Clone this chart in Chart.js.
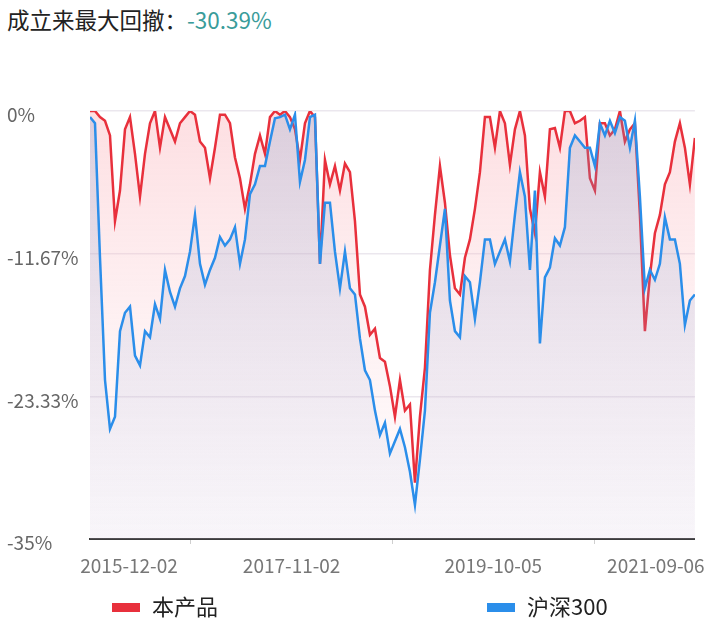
<!DOCTYPE html>
<html>
<head>
<meta charset="utf-8">
<script src="https://cdn.jsdelivr.net/npm/chart.js@4.4.1/dist/chart.umd.min.js"></script>
<style>
  html, body { margin: 0; padding: 0; background: #fff; }
  body { width: 716px; height: 622px; position: relative; overflow: hidden;
         font-family: "Noto Sans CJK SC", "Noto Sans", sans-serif; }
  .title { position: absolute; left: 7px; top: 3px; font-size: 22.5px; color: #222; white-space: nowrap; }
  .title .num { color: #3a9c9a; }
  .chart-box { position: absolute; left: 0; top: 0; width: 716px; height: 590px; }
  .legend-item { position: absolute; top: 589px; font-size: 22px; color: #222; white-space: nowrap; }
  .legend-item i { display: inline-block; width: 28px; height: 9px; margin-right: 12px; vertical-align: middle; position: relative; top: -2px; }
</style>
</head>
<body>
<div class="title">成立来最大回撤：<span class="num">-30.39%</span></div>
<div class="chart-box"><canvas id="ddChart" width="716" height="590"></canvas></div>
<div class="legend-item" style="left:112px"><i style="background:#e8303c"></i>本产品</div>
<div class="legend-item" style="left:487px"><i style="background:#2b8eea"></i>沪深300</div>

<script>
// 回撤数据 (%), 2015-12-02 ~ 2021-09-06, 等间隔采样
const productDD = [
  0, 0, -0.5, -0.8, -2.0, -9.0, -6.5, -1.5, -0.5, -3.5,
  -7.0, -3.5, -1.0, 0, -3.0, -0.5, -1.5, -2.5, -1.0, -0.5,
  0, -0.3, -2.5, -3.0, -5.5, -3.0, -0.3, -0.3, -1.0, -3.8,
  -5.5, -8.0, -6.0, -3.5, -2.0, -3.5, -0.5, 0, -0.3, 0,
  -0.5, -1.5, -4.0, -1.0, 0, -0.5, -12.5, -4.0, -6.0, -4.5,
  -6.5, -4.3, -5.0, -9.0, -15.0, -16.0, -18.3, -17.8, -20.2, -20.5,
  -22.5, -25.0, -22.0, -24.5, -24.0, -30.39, -25.0, -21.0, -13.0, -8.5,
  -4.5, -7.5, -11.8, -14.5, -15.0, -12.0, -10.5, -8.0, -5.0, -0.5,
  -0.5, -3.0, 0, -1.0, -4.4, -1.5, 0, -2.0, -8.0, -10.0,
  -5.0, -7.0, -1.5, -1.4, -3.0, 0, 0, -1.0, -0.8, -0.5,
  -5.5, -6.5, -1.0, -1.0, -2.0, -1.5, 0, -2.5, -1.5, -1.0,
  -8.5, -18.0, -13.5, -10.0, -8.5, -6.0, -5.0, -2.5, -1.0, -3.0,
  -6.0, -2.2
];
const hs300DD = [
  -0.5, -1.0, -12.0, -22.0, -26.0, -25.0, -18.0, -16.5, -16.0, -20.0,
  -20.8, -18.0, -18.5, -15.8, -17.0, -13.0, -14.8, -16.0, -14.5, -13.5,
  -11.5, -8.5, -12.5, -14.2, -13.0, -12.0, -10.3, -11.0, -10.5, -9.5,
  -12.5, -10.5, -6.8, -6.0, -4.5, -4.5, -2.5, -0.6, -0.5, -0.3,
  -1.5, -0.3, -5.8, -4.0, -0.5, -0.3, -12.5, -7.5, -7.5, -11.5,
  -14.5, -11.5, -14.5, -15.0, -18.6, -21.2, -22.0, -24.5, -26.5, -25.5,
  -28.0, -27.0, -26.0, -27.5, -29.5, -32.2, -28.5, -24.5, -16.5, -14.0,
  -11.0, -8.0, -15.5, -18.0, -18.5, -13.5, -14.0, -17.0, -14.0, -10.5,
  -10.5, -12.5, -11.5, -10.5, -12.3, -8.5, -5.0, -7.0, -13.0, -6.5,
  -19.0, -13.6, -12.8, -10.4, -11.0, -9.5, -3.0, -2.0, -2.5, -3.0,
  -3.0, -4.5, -1.0, -2.0, -0.8, -1.8, -0.5, -0.8, -3.0, -0.8,
  -7.0, -14.5, -13.0, -13.8, -12.5, -8.7, -10.5, -10.5, -12.5, -17.5,
  -15.5, -15.0
];
const xTickLabels = ['2015-12-02', '2017-11-02', '2019-10-05', '2021-09-06'];
const yTickValues = [0, -35 / 3, -70 / 3, -35];
const yTickLabels = ['0%', '-11.67%', '-23.33%', '-35%'];

const lastIdx = productDD.length - 1;

function fillGradient(top, bottom) {
  return (context) => {
    const { ctx, chartArea } = context.chart;
    if (!chartArea) return top;
    const g = ctx.createLinearGradient(0, chartArea.top, 0, chartArea.bottom);
    g.addColorStop(0, top);
    g.addColorStop(1, bottom);
    return g;
  };
}

const fontFamily = '"Noto Sans CJK SC", "Noto Sans", sans-serif';

// label centres sit a little inside the ends, tick marks halfway between labels
const xTickFractions = [0.0645, 1 / 6, 1 / 3, 0.5, 2 / 3, 5 / 6, 0.9355];

new Chart(document.getElementById('ddChart'), {
  type: 'line',
  data: {
    labels: productDD.map((_, i) => i),
    datasets: [
      {
        label: '本产品',
        data: productDD,
        borderColor: '#e8303c',
        borderWidth: 2.5,
        backgroundColor: fillGradient('rgba(250,170,178,0.38)', 'rgba(250,215,222,0.08)'),
        fill: 'start',
        pointRadius: 0,
        tension: 0,
        order: 1
      },
      {
        label: '沪深300',
        data: hs300DD,
        borderColor: '#2b8eea',
        borderWidth: 2.5,
        backgroundColor: fillGradient('rgba(110,150,200,0.24)', 'rgba(170,170,215,0.08)'),
        fill: 'start',
        pointRadius: 0,
        tension: 0,
        order: 0
      }
    ]
  },
  options: {
    responsive: false,
    maintainAspectRatio: false,
    animation: false,
    layout: { padding: { top: 111, left: 7, right: 21, bottom: 11 } },
    plugins: {
      legend: { display: false },
      tooltip: { enabled: false }
    },
    scales: {
      x: {
        type: 'linear',
        min: 0,
        max: lastIdx,
        afterBuildTicks: (scale) => {
          scale.ticks = xTickFractions.map((f) => ({ value: f * lastIdx }));
        },
        afterFit: (scale) => { scale.height = 40; },
        ticks: {
          autoSkip: false,
          maxRotation: 0,
          align: 'center',
          padding: 10,
          color: '#777',
          font: { family: fontFamily, size: 19 },
          callback: (value, index) => (index % 2 === 0 ? xTickLabels[index / 2] : '')
        },
        grid: {
          drawOnChartArea: false,
          drawTicks: true,
          tickLength: 5,
          tickColor: (ctx) => (ctx.index % 2 ? '#cfcfcf' : 'rgba(0,0,0,0)')
        },
        border: { display: true, color: '#3c3c3c', width: 2 }
      },
      y: {
        min: -35,
        max: 0,
        afterBuildTicks: (scale) => {
          scale.ticks = yTickValues.map((v) => ({ value: v }));
        },
        afterFit: (scale) => { scale.width = 83; },
        ticks: {
          crossAlign: 'far',
          labelOffset: 4,
          color: '#666',
          font: { family: fontFamily, size: 19 },
          callback: (value, index) => yTickLabels[index]
        },
        grid: {
          drawTicks: false,
          color: (ctx) => (ctx.index === 3 ? 'rgba(0,0,0,0)' : '#ebe7ee'),
          lineWidth: 1.5
        },
        border: { display: false }
      }
    }
  }
});
</script>
</body>
</html>
